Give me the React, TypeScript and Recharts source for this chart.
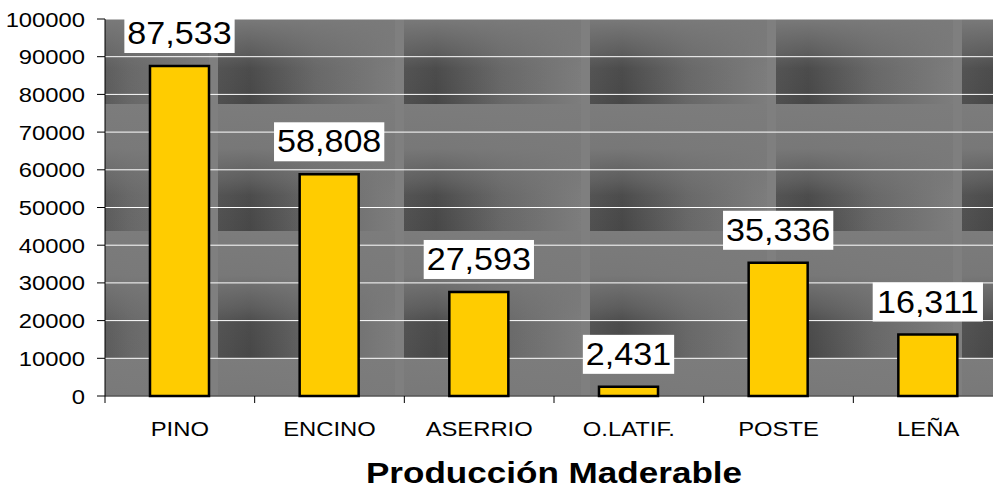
import { BarChart, Bar, XAxis, YAxis, CartesianGrid } from "recharts";

const categories = ["PINO", "ENCINO", "ASERRIO", "O.LATIF.", "POSTE", "LEÑA"];
const production = [87533, 58808, 27593, 2431, 35336, 16311];
const yTicks = [0, 10000, 20000, 30000, 40000, 50000, 60000, 70000, 80000, 90000, 100000];

const data = categories.map((name, i) => ({ name, value: production[i] }));

const FONT = "'Liberation Sans', Arial, sans-serif";
const CHART_W = 1010;
const CHART_H = 489;
const Y_W = 105;
const MARGIN = { top: 19, right: 7, left: 0, bottom: 0 };
const BAND = (CHART_W - MARGIN.right - MARGIN.left - Y_W) / categories.length;

const fmt = (v: number) => v.toLocaleString("en-US");

// rough text width for arial digits / commas
const textW = (s: string, size: number) =>
  s.split("").reduce((w, c) => w + (c === "," ? 0.278 : 0.556), 0) * size;

const YTick = ({ x, y, payload }: any) => (
  <g transform={`translate(${x},${y}) scale(1.19,1)`}>
    <text textAnchor="end" dy={7.5} fontSize={20} fontFamily={FONT} fill="#000">
      {payload.value}
    </text>
  </g>
);

const XTick = ({ x, y, payload }: any) => (
  <g>
    <line x1={x - BAND / 2} x2={x - BAND / 2} y1={y} y2={y + 7} stroke="#000" />
    <g transform={`translate(${x},${y + 40}) scale(1.19,1)`}>
      <text textAnchor="middle" fontSize={20} fontFamily={FONT} fill="#000">
        {payload.value}
      </text>
    </g>
  </g>
);

const ValueLabel = ({ x, y, width, value }: any) => {
  const s = fmt(value);
  const w = textW(s, 31) * 1.1 + 6;
  const cx = x + width / 2;
  return (
    <g>
      <rect x={cx - w / 2} y={y - 13 - 39} width={w} height={39} fill="#fff" />
      <g transform={`translate(${cx},${y - 22}) scale(1.1,1)`}>
        <text textAnchor="middle" fontSize={31} fontFamily={FONT} fill="#000">
          {s}
        </text>
      </g>
    </g>
  );
};

const Title = ({ viewBox }: any) => (
  <g transform={`translate(${viewBox.x + viewBox.width / 2},${viewBox.y + 87}) scale(1.21,1)`}>
    <text textAnchor="middle" fontSize={29} fontWeight="bold" fontFamily={FONT} fill="#000">
      Producción Maderable
    </text>
  </g>
);

export default function App() {
  return (
    <div style={{ position: "fixed", left: 0, top: 0, width: 993, height: 489, background: "#fff", overflow: "hidden" }}>
      <svg width={0} height={0} style={{ position: "absolute" }}>
        <defs>
          <linearGradient id="tileH" x1="0" y1="0" x2="1" y2="0">
            <stop offset="0" stopColor="#505050" />
            <stop offset="0.18" stopColor="#474747" />
            <stop offset="0.55" stopColor="#676767" />
            <stop offset="1" stopColor="#7d7d7d" />
          </linearGradient>
          <linearGradient id="tileV" x1="0" y1="0" x2="0" y2="1">
            <stop offset="0" stopColor="#7c7c7c" stopOpacity={1} />
            <stop offset="0.35" stopColor="#7a7a7a" stopOpacity={0.95} />
            <stop offset="0.6" stopColor="#777" stopOpacity={0.45} />
            <stop offset="0.72" stopColor="#777" stopOpacity={0.1} />
            <stop offset="1" stopColor="#777" stopOpacity={0} />
          </linearGradient>
          <pattern id="tileBg" patternUnits="userSpaceOnUse" x={218} y={104} width={186} height={127}>
            <rect x={0} y={0} width={186} height={127} fill="#7f7f7f" />
            <rect x={0} y={0} width={177} height={127} fill="url(#tileH)" />
            <rect x={0} y={0} width={177} height={127} fill="url(#tileV)" />
          </pattern>
        </defs>
      </svg>
      <BarChart width={CHART_W} height={CHART_H} data={data} margin={MARGIN}>
        <CartesianGrid vertical={false} stroke="#fff" fill="url(#tileBg)" fillOpacity={1} />
        <XAxis
          dataKey="name"
          interval={0}
          height={93}
          axisLine={{ stroke: "#000" }}
          tickLine={false}
          tickSize={0}
          tickMargin={0}
          tick={<XTick />}
          label={<Title />}
        />
        <YAxis
          width={Y_W}
          domain={[0, 100000]}
          ticks={yTicks}
          interval={0}
          axisLine={{ stroke: "#000" }}
          tickLine={{ stroke: "#000" }}
          tickSize={8}
          tickMargin={12}
          tick={<YTick />}
        />
        <Bar
          dataKey="value"
          fill="#ffcc00"
          stroke="#000"
          strokeWidth={2.5}
          barSize={59}
          isAnimationActive={false}
          label={<ValueLabel />}
        />
      </BarChart>
    </div>
  );
}
